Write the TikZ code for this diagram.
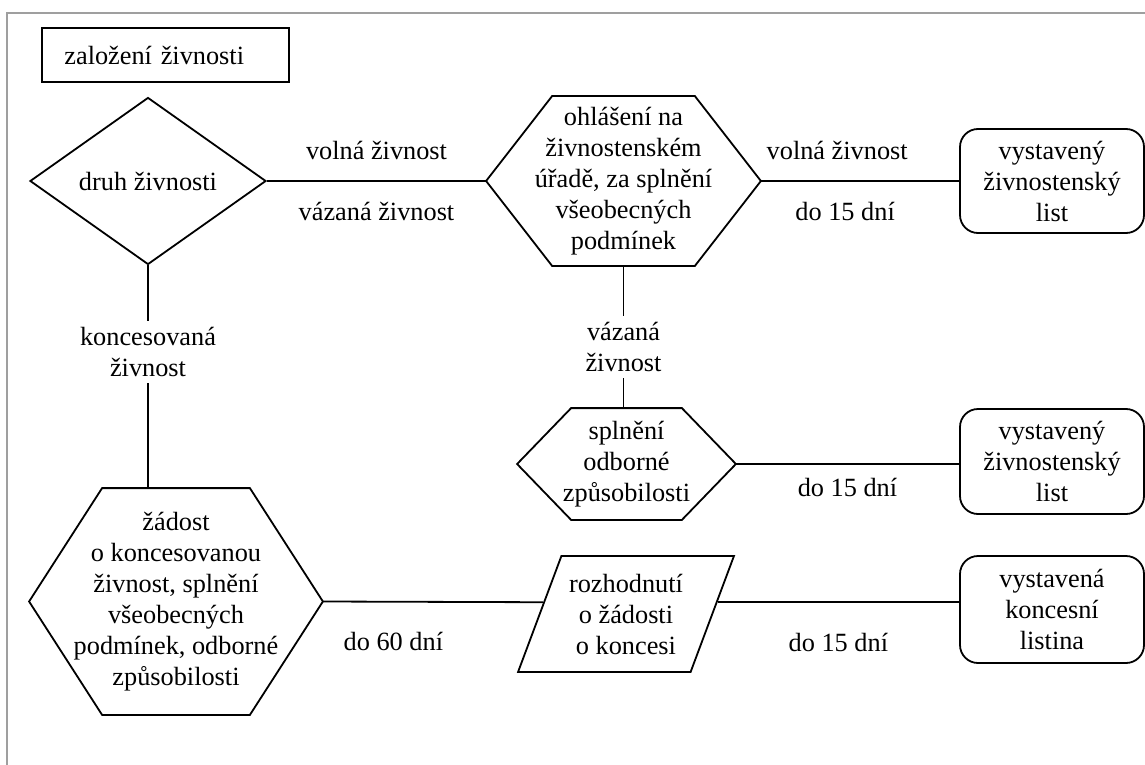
\documentclass[tikz,border=0pt]{standalone}
\usepackage{fontspec}
\setmainfont{Liberation Serif}
\usetikzlibrary{shapes.geometric,calc}
\begin{document}
\begin{tikzpicture}[x=0.5pt,y=-0.5pt,line width=0.9pt,
  font=\fontsize{13.15}{15.5}\selectfont,
  hexa/.style={align=center, inner sep=0pt},
  endbox/.style={draw, rounded corners=9pt, align=center, minimum width=92pt, inner sep=0pt},
  lbl/.style={fill=white, align=center, inner sep=3pt}]
  \useasboundingbox (0,0) rectangle (1145,765);
  \draw[gray!75, line width=1pt] (7,765) -- (7,13) -- (1145,13);

  \node[draw, anchor=west, minimum width=123.5pt, minimum height=27pt, text width=101pt, inner xsep=11pt, align=left] (start) at (41,55) {založení živnosti};
  \node[diamond, draw, minimum width=118pt, minimum height=83.5pt, inner sep=0pt] (druh) at (148,181) {druh živnosti};

  \node[hexa, minimum width=136.5pt, minimum height=84pt] (ohl) at (623.5,181)
    {ohlášení na\\živnostenském\\úřadě, za splnění\\všeobecných\\podmínek};
  \node[endbox, minimum height=52pt] (zl1) at (1052,181) {vystavený\\živnostenský\\list};

  \node[hexa, minimum width=108.5pt, minimum height=55pt] (spl) at (626.5,464)
    {splnění\\odborné\\způsobilosti};
  \node[endbox, minimum height=52.5pt] (zl2) at (1052,461.5) {vystavený\\živnostenský\\list};

  \node[hexa, minimum width=146pt, minimum height=112.5pt] (zad) at (176,601.5)
    {žádost\\o koncesovanou\\živnost, splnění\\všeobecných\\podmínek, odborné\\způsobilosti};
  \node[trapezium, draw, trapezium left angle=64.6, trapezium right angle=115.4, trapezium stretches=true,
    minimum width=108pt, minimum height=58pt, inner sep=0pt, align=center] (rozh) at (626,614)
    {rozhodnutí\\o žádosti\\o koncesi};
  \node[endbox, minimum height=53.5pt] (konc) at (1052,609.5) {vystavená\\koncesní\\listina};

  % hexagon outlines
  \foreach \n/\t in {ohl/33pt, spl/27pt, zad/36.5pt}
    \draw (\n.west) -- ([xshift=\t]\n.north west) -- ([xshift=-\t]\n.north east) -- (\n.east)
      -- ([xshift=-\t]\n.south east) -- ([xshift=\t]\n.south west) -- cycle;

  \coordinate (rin) at ($(rozh.bottom left corner)!0.6!(rozh.top left corner)$);
  \coordinate (rout) at ($(rozh.bottom right corner)!0.6!(rozh.top right corner)$);

  % connectors
  \draw (druh.east) -- node[yshift=15.5pt]{volná živnost} node[yshift=-15pt]{vázaná živnost} (ohl.west);
  \draw (ohl.east) -- node[pos=0.385,yshift=15.5pt]{volná živnost} node[pos=0.425,yshift=-15pt]{do 15 dní} (zl1.west);
  \draw (ohl.south) -- node[lbl,pos=0.57]{vázaná\\živnost} (ohl.south |- spl.north);
  \draw (spl.east) -- node[yshift=-11.5pt]{do 15 dní} (spl.east -| zl2.west);
  \draw (druh.south) -- node[lbl,pos=0.39]{koncesovaná\\živnost} (druh.south |- zad.north);
  \draw (zad.east) -- node[pos=0.32,yshift=-20pt]{do 60 dní} (rin);
  \draw (rout) -- node[yshift=-20pt]{do 15 dní} (rout -| konc.west);
\end{tikzpicture}
\end{document}
